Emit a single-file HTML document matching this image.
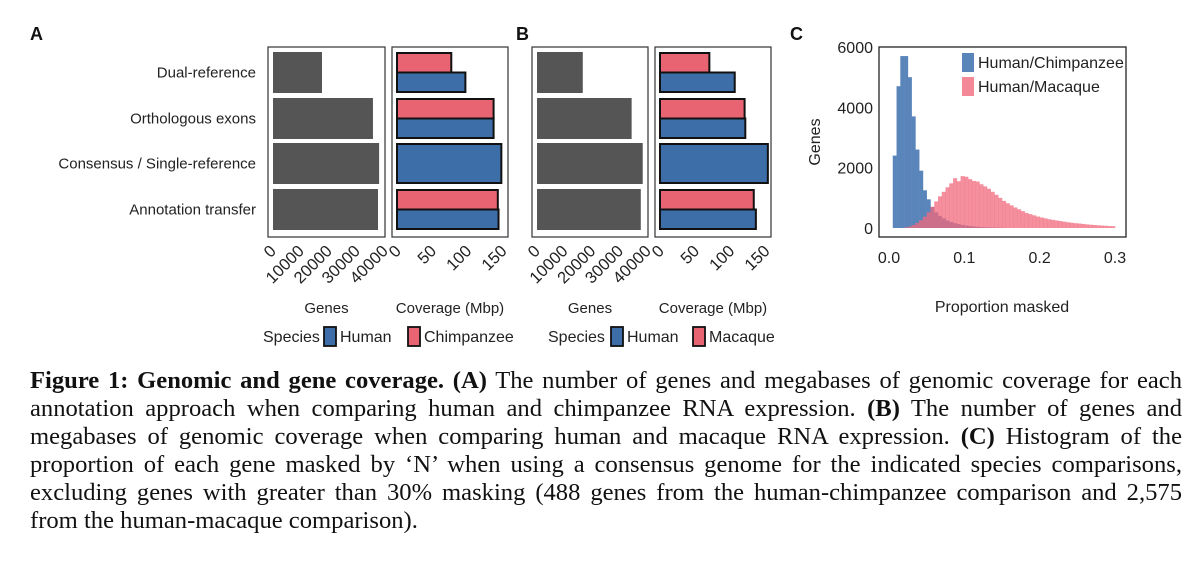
<!DOCTYPE html>
<html><head><meta charset="utf-8"><style>
html,body{margin:0;padding:0;background:#fff;width:1200px;height:580px;overflow:hidden}
svg{position:absolute;left:0;top:0}
.cap{position:absolute;left:30px;width:1152px;font-family:"Liberation Serif",serif;font-size:24.6px;color:#111;text-align:justify;text-align-last:justify;white-space:nowrap;line-height:28px}
.cap.last{text-align-last:left}
</style></head><body>
<svg id="fig" width="1200" height="360" font-family="Liberation Sans, sans-serif"></svg>
<div class="cap" style="top:367px"><b>Figure 1: Genomic and gene coverage. (A)</b> The number of genes and megabases of genomic coverage for each</div>
<div class="cap" style="top:395px">annotation approach when comparing human and chimpanzee RNA expression. <b>(B)</b> The number of genes and</div>
<div class="cap" style="top:423px">megabases of genomic coverage when comparing human and macaque RNA expression. <b>(C)</b> Histogram of the</div>
<div class="cap" style="top:451px">proportion of each gene masked by ‘N’ when using a consensus genome for the indicated species comparisons,</div>
<div class="cap" style="top:479px">excluding genes with greater than 30% masking (488 genes from the human-chimpanzee comparison and 2,575</div>
<div class="cap last" style="top:507px">from the human-macaque comparison).</div>
<script>
const categories=["Dual-reference","Orthologous exons","Consensus / Single-reference","Annotation transfer"];
const genesA=[17500,35700,37900,37500];
const genesB=[16500,34100,38100,37400];
const covA_human=[97,137,148,144];
const covA_other=[77,137,null,143];
const covB_human=[106,121,153,136];
const covB_other=[70,120,null,133];
const geneTicks=[0,10000,20000,30000,40000];
const covTicks=[0,50,100,150];
const histBinStart=0.005, histBinWidth=0.005;
const histChimp=[2400,4700,5700,5700,5000,3700,2600,1900,1250,950,700,520,400,320,250,200,160,130,100,80,65,50,40,30,25,20,15,10,8,5];
const histMacaqueStart=0.02;
const histMacaque=[20,50,100,170,260,380,520,700,880,1050,1200,1350,1480,1650,1550,1720,1700,1620,1560,1540,1450,1380,1300,1200,1100,1000,900,820,750,680,620,560,500,460,420,380,350,320,290,270,250,230,210,190,175,160,150,135,120,110,100,90,80,75,65,60];
const histYTicks=[0,2000,4000,6000];
const histXTicks=[0.0,0.1,0.2,0.3];

const NS="http://www.w3.org/2000/svg";
const svg=document.getElementById('fig');
function mk(tag,attrs,parent){const e=document.createElementNS(NS,tag);for(const k in attrs)e.setAttribute(k,attrs[k]);(parent||svg).appendChild(e);return e;}
function txt(x,y,s,attrs){const e=mk('text',Object.assign({x:x,y:y,'font-size':15,fill:'#222'},attrs||{}));e.textContent=s;return e;}

const BLUE="#3d6ea8", RED="#e86472", GRAY="#555555";
const rowTop=[51,97,142,188], rowH=43;

function panelLetter(x,s){const t=txt(x,40,s,{'font-size':18,'font-weight':'bold',fill:'#111'});

}
panelLetter(30,"A");panelLetter(516,"B");panelLetter(790,"C");

categories.forEach((c,i)=>{const t=txt(256,rowTop[i]+rowH/2+5,c,{'text-anchor':'end'});

});

function genesPanel(x0,x1,vals,id){
  const g=mk('g',{});
  
  
  mk('rect',{x:x0,y:47,width:x1-x0,height:190,fill:'#fff',stroke:'#333','stroke-width':1.2},g);
  const ax=x0+5, sx=v=>ax+v*(x1-x0-5)/40000;
  vals.forEach((v,i)=>{const r=mk('rect',{x:ax,y:rowTop[i]+1,width:sx(v)-ax,height:rowH-2,fill:GRAY},g);
    
    });
  geneTicks.forEach(t=>{const e=txt(0,0,String(t),{'text-anchor':'end','font-size':16.5,transform:`translate(${sx(t)+4},252) rotate(-45)`});
    
    });
  const tt=txt((x0+x1)/2,313,"Genes",{'text-anchor':'middle'});
  
  
}
function covPanel(x0,x1,hum,oth,id){
  const g=mk('g',{});
  
  
  mk('rect',{x:x0,y:47,width:x1-x0,height:190,fill:'#fff',stroke:'#333','stroke-width':1.2},g);
  const ax=x0+5, sx=v=>ax+v*0.705;
  hum.forEach((v,i)=>{
    const o=oth[i];
    if(o==null){const r=mk('rect',{x:ax,y:rowTop[i]+2,width:sx(v)-ax,height:rowH-4,fill:BLUE,stroke:'#111','stroke-width':2},g);
      
      }
    else{
      const r1=mk('rect',{x:ax,y:rowTop[i]+2,width:sx(o)-ax,height:(rowH-4)/2,fill:RED,stroke:'#111','stroke-width':2},g);
      
      
      const r2=mk('rect',{x:ax,y:rowTop[i]+2+(rowH-4)/2,width:sx(v)-ax,height:(rowH-4)/2,fill:BLUE,stroke:'#111','stroke-width':2},g);
      
      
    }
  });
  covTicks.forEach(t=>{const e=txt(0,0,String(t),{'text-anchor':'end','font-size':16.5,transform:`translate(${sx(t)+5},252) rotate(-45)`});
    
    });
  const tt=txt((x0+x1)/2,313,"Coverage (Mbp)",{'text-anchor':'middle'});
  
  
}
genesPanel(268,385,genesA,'a');covPanel(392,508,covA_human,covA_other,'a');
genesPanel(532,648,genesB,'b');covPanel(655,771,covB_human,covB_other,'b');

function legend(x,bx,rx,other,id){
  const t0=txt(x,342,"Species",{'font-size':16});
  
  
  const b=mk('rect',{x:bx,y:327,width:12,height:19,fill:BLUE,stroke:'#111','stroke-width':1.8});
  
  
  const t1=txt(bx+16,342,"Human",{'font-size':16});
  
  
  const r=mk('rect',{x:rx,y:327,width:12,height:19,fill:RED,stroke:'#111','stroke-width':1.8});
  
  
  const t2=txt(rx+16,342,other,{'font-size':16});
  
  
}
legend(263,324,408,"Chimpanzee",'a');legend(548,611,693,"Macaque",'b');

// Panel C histogram
const hx0=889,hx1=1115,hy0=228,hy6=47;
const hsx=v=>hx0+(v/0.3)*(hx1-hx0);
const hsy=v=>hy0-(v/6000)*(hy0-hy6);
const hg=mk('g',{});


histChimp.forEach((v,i)=>{const x=histBinStart+i*histBinWidth;
  const r=mk('rect',{x:hsx(x),y:hsy(v),width:hsx(x+histBinWidth)-hsx(x)+0.3,height:hy0-hsy(v),fill:'#5a85bb'},hg);
  
  });
histMacaque.forEach((v,i)=>{const x=histMacaqueStart+i*histBinWidth;
  const r=mk('rect',{x:hsx(x),y:hsy(v),width:hsx(x+histBinWidth)-hsx(x)+0.3,height:hy0-hsy(v),fill:'#f06a7c','fill-opacity':0.75},hg);
  
  });
mk('rect',{x:879,y:47,width:247,height:190,fill:'none',stroke:'#222','stroke-width':1.3},hg);
histYTicks.forEach(t=>{const e=txt(873,hsy(t)+6,String(t),{'text-anchor':'end','font-size':16});
  
  });
histXTicks.forEach(t=>{const e=txt(hsx(t),263,t.toFixed(1),{'text-anchor':'middle','font-size':16});
  
  });
const yt=txt(0,0,"Genes",{'text-anchor':'middle','font-size':16,transform:'translate(820,142) rotate(-90)'});


const xt=txt(1002,312,"Proportion masked",{'text-anchor':'middle','font-size':16});


const l1=mk('rect',{x:962,y:53,width:12,height:19,fill:'#5a85bb'});


const lt1=txt(978,68,"Human/Chimpanzee",{'font-size':16});


const l2=mk('rect',{x:962,y:77,width:12,height:19,fill:'#f06a7c','fill-opacity':0.8});


const lt2=txt(978,92,"Human/Macaque",{'font-size':16});


</script>
</body></html>
